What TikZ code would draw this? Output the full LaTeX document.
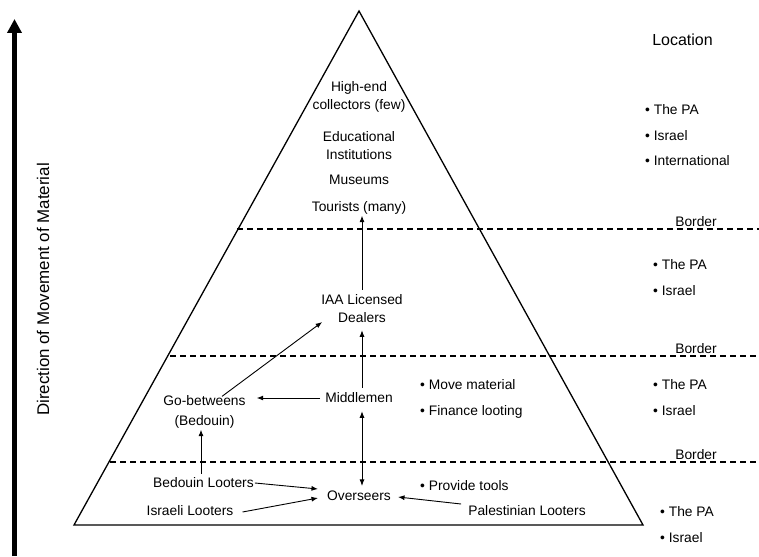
\documentclass[tikz,border=0pt]{standalone}
\usepackage{fontspec}
\setmainfont{Liberation Sans}
\usetikzlibrary{arrows.meta}
\begin{document}
\begin{tikzpicture}[x=1pt,y=-1pt,
  lbl/.style={inner sep=0pt,font=\fontsize{13.8}{18}\selectfont,align=center},
  lst/.style={inner sep=0pt,font=\fontsize{13.8}{25.5}\selectfont,align=left,anchor=north west},
  arr/.style={line width=0.9pt,-{Latex[length=6.5pt,width=5pt]}},
  darr/.style={line width=0.9pt,{Latex[length=6.5pt,width=5pt]}-{Latex[length=6.5pt,width=5pt]}},
  border/.style={line width=1.3pt,dash pattern=on 6pt off 4pt}]
\useasboundingbox (0,0) rectangle (759,556);
% direction arrow
\coordinate (dbot) at (14.5,556);
\coordinate (dtop) at (14.5,19);
\draw[line width=4.5pt,-{Triangle[length=14pt,width=14pt]}] (dbot) -- (dtop);
\node[lbl,rotate=90,font=\fontsize{16.9}{18}\selectfont] (dirlbl) at (43,289.5) {Direction of Movement of Material};
% pyramid
\coordinate (apex) at (359,11);
\coordinate (bl) at (74,525);
\coordinate (br) at (643,525);
\draw[line width=1.3pt,line join=miter] (bl) -- (apex) -- (br) -- cycle;
% borders
\coordinate (b1l) at (237,229); \coordinate (b1r) at (759,229);
\coordinate (b2l) at (170,356); \coordinate (b2r) at (759,356);
\coordinate (b3l) at (110,462); \coordinate (b3r) at (759,462);
\draw[border] (b1l) -- (b1r);
\draw[border] (b2l) -- (b2r);
\draw[border] (b3l) -- (b3r);
\node[lbl] (bd1) at (696,222) {Border};
\node[lbl] (bd2) at (696,349) {Border};
\node[lbl] (bd3) at (696,455) {Border};
% top tier
\node[lbl] (high) at (359,97) {High-end\\collectors (few)};
\node[lbl] (edu) at (359,146) {Educational\\Institutions};
\node[lbl] (mus) at (359,180) {Museums};
\node[lbl] (tour) at (359,208) {Tourists (many)};
% second tier
\node[lbl] (iaa) at (362,309) {IAA Licensed\\Dealers};
% third tier
\node[lbl] (mid) at (359,398) {Middlemen};
\node[lbl,font=\fontsize{13.8}{20}\selectfont] (go) at (204.5,412) {Go-betweens\\(Bedouin)};
\node[lst] (tasks) at (420,379.5) {\textbullet{} Move material\\\textbullet{} Finance looting};
% bottom tier
\node[lbl] (bedl) at (203.5,483) {Bedouin Looters};
\node[lbl] (isrl) at (190,511) {Israeli Looters};
\node[lbl] (over) at (359,496) {Overseers};
\node[lbl] (pall) at (527,511) {Palestinian Looters};
\node[lst] (tools) at (420,480.5) {\textbullet{} Provide tools};
% location column
\node[lbl,font=\fontsize{16}{18}\selectfont] (loc) at (682.5,40) {Location};
\node[lst] (loc1) at (645,104.5) {\textbullet{} The PA\\\textbullet{} Israel\\\textbullet{} International};
\node[lst] (loc2) at (653,259.5) {\textbullet{} The PA\\\textbullet{} Israel};
\node[lst] (loc3) at (653,379.5) {\textbullet{} The PA\\\textbullet{} Israel};
\node[lst] (loc4) at (660,506.5) {\textbullet{} The PA\\\textbullet{} Israel};
% connectors
\draw[arr] ([yshift=5pt]iaa.north) -- ([yshift=-1pt]iaa.north |- tour.south);
\draw[arr] ([xshift=3pt,yshift=5pt]mid.north) -- ([yshift=-7pt]iaa.south);
\draw[darr] ([xshift=3pt,yshift=-8pt]mid.south) -- ([xshift=3pt,yshift=5pt]over.north);
\draw[arr] ([xshift=-5pt]mid.west) -- ([xshift=11pt]go.east |- mid.west);
\draw[arr] ([xshift=17.5pt,yshift=-1pt]go.north) -- ([xshift=1pt,yshift=-13pt]iaa.west);
\draw[arr] ([xshift=-2.5pt,yshift=4pt]bedl.north) -- ([xshift=-3.5pt,yshift=-1pt]go.south);
\draw[arr] ([xshift=1pt]bedl.east) -- ([xshift=-9pt,yshift=7pt]over.west);
\draw[arr] ([xshift=9pt,yshift=-1pt]isrl.east) -- ([xshift=-9pt,yshift=-2pt]over.west);
\draw[arr] ([xshift=-7pt,yshift=7pt]pall.west) -- ([xshift=7pt,yshift=-1pt]over.east);
\end{tikzpicture}
\end{document}
